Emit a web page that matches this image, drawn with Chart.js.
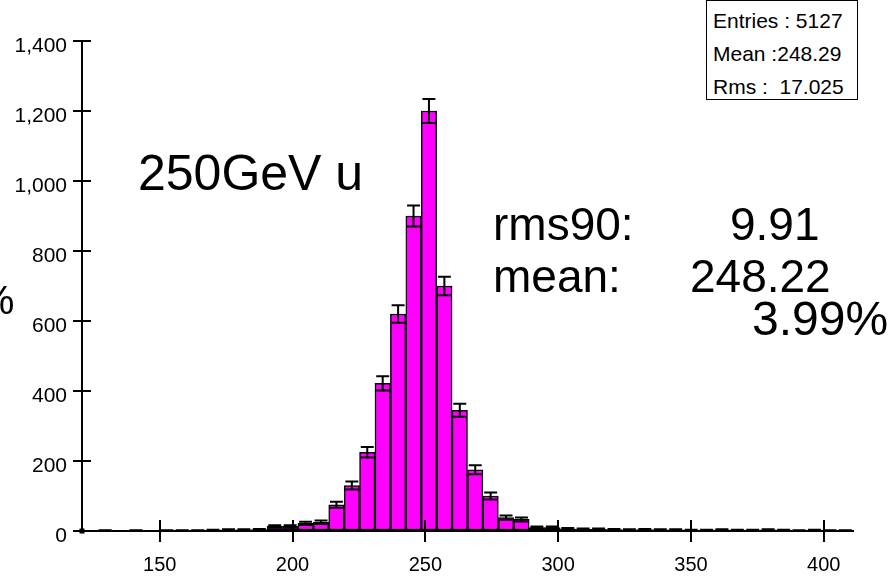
<!DOCTYPE html>
<html>
<head>
<meta charset="utf-8">
<script src="https://cdn.jsdelivr.net/npm/chart.js@4/dist/chart.umd.min.js"></script>
<style>
  html, body { margin: 0; padding: 0; background: #fff; }
  #wrap { position: relative; width: 896px; height: 576px; overflow: hidden; font-family: "Liberation Sans", Arial, sans-serif; }
  #c { position: absolute; left: 0; top: 0; }
  .t { position: absolute; white-space: pre; line-height: 1; color: #000; }
  #stats { position: absolute; left: 706px; top: 0px; width: 150px; height: 98px; border: 1px solid #000; background: #fff; font-size: 21px; }
  #stats .row { position: absolute; left: 6px; white-space: pre; line-height: 1; }
</style>
</head>
<body>
<div id="wrap">
  <canvas id="c" width="896" height="576"></canvas>
  <div class="t" style="left:-22px; top:280px; font-size:41px;">%</div>
  <div class="t" style="left:138px; top:148px; font-size:50px;">250GeV u</div>
  <div class="t" style="left:493px; top:201px; font-size:46px;">rms90:</div>
  <div class="t" style="left:730px; top:201px; font-size:46px;">9.91</div>
  <div class="t" style="left:493px; top:253px; font-size:46px;">mean:</div>
  <div class="t" style="left:690px; top:253px; font-size:46px;">248.22</div>
  <div class="t" style="left:752px; top:295px; font-size:48px;">3.99%</div>
  <div id="stats">
    <div class="row" style="top:9px;">Entries : 5127</div>
    <div class="row" style="top:42px;">Mean :248.29</div>
    <div class="row" style="top:75px;">Rms :  17.025</div>
  </div>
</div>
<script>
// ---- data ----
const binCenters = [123.65, 129.46, 135.26, 141.07, 146.87, 152.68, 158.48, 164.29, 170.09, 175.90,
                    181.70, 187.51, 193.31, 199.12, 204.92, 210.73, 216.53, 222.34, 228.14, 233.95,
                    239.75, 245.56, 251.36, 257.17, 262.97, 268.78, 274.58, 280.39, 286.19, 292.00,
                    297.80, 303.61, 309.41, 315.22, 321.02, 326.83, 332.63, 338.44, 344.24, 350.05,
                    355.85, 361.66, 367.46, 373.27, 379.07, 384.88, 390.68, 396.49, 402.29, 408.10];
const counts = [0, 1, 0, 1, 0, 1, 1, 1, 2, 3,
                3, 4, 13, 13, 22, 25, 75, 130, 225, 422,
                620, 900, 1200, 700, 345, 175, 100, 38, 33, 10,
                10, 6, 5, 5, 4, 3, 4, 3, 3, 2,
                2, 3, 2, 2, 3, 2, 1, 2, 1, 1];
const errors = [0, 1, 0, 1, 0, 1, 1, 1, 1.4, 1.7,
                1.7, 2, 3.6, 3.6, 4.7, 5, 8.7, 11.4, 15, 20.5,
                24.9, 30, 34.6, 26.5, 18.6, 13.2, 10, 6.2, 5.7, 3.2,
                3.2, 2.4, 2.2, 2.2, 2, 1.7, 2, 1.7, 1.7, 1.4,
                1.4, 1.7, 1.4, 1.4, 1.7, 1.4, 1, 1.4, 1, 1];
const xTickValues = [150, 200, 250, 300, 350, 400];
const xRange = [120.75, 411];
const yRange = [0, 1400];
const yStep = 200;

const points = binCenters.map((x, i) => ({ x: x, y: counts[i] }));

const crossTicks = {
  id: 'crossTicks',
  afterDatasetsDraw(chart) {
    const ctx = chart.ctx;
    const xs = chart.scales.x, ys = chart.scales.y;
    const meta = chart.getDatasetMeta(0);
    ctx.save();
    // error bars
    ctx.strokeStyle = '#000';
    ctx.lineWidth = 2;
    meta.data.forEach((bar, i) => {
      const e = errors[i];
      if (!e) return;
      const cx = bar.x;
      const yt = ys.getPixelForValue(counts[i] + e);
      const yb = ys.getPixelForValue(Math.max(0, counts[i] - e));
      const hw = bar.width * 0.42;
      ctx.beginPath();
      ctx.moveTo(cx, yt); ctx.lineTo(cx, yb);
      ctx.moveTo(cx - hw, yt); ctx.lineTo(cx + hw, yt);
      ctx.moveTo(cx - hw, yb); ctx.lineTo(cx + hw, yb);
      ctx.stroke();
    });
    // inward halves of the axis ticks
    ctx.lineWidth = 2;
    ctx.beginPath();
    ys.ticks.forEach(t => {
      const py = Math.round(ys.getPixelForValue(t.value));
      ctx.moveTo(xs.left, py); ctx.lineTo(xs.left + 9, py);
    });
    xs.ticks.forEach(t => {
      const px = Math.round(xs.getPixelForValue(t.value));
      ctx.moveTo(px, ys.bottom); ctx.lineTo(px, ys.bottom - 11);
    });
    ctx.stroke();
    // origin marker
    ctx.fillStyle = '#000';
    ctx.fillRect(xs.left - 2.5, ys.bottom - 2.5, 5, 5);
    ctx.restore();
  }
};

new Chart(document.getElementById('c'), {
  type: 'bar',
  data: {
    datasets: [{
      data: points,
      backgroundColor: '#ff00ff',
      borderColor: '#000000',
      borderWidth: 1.5,
      borderSkipped: false,
      barPercentage: 1.0,
      categoryPercentage: 1.0,
      grouped: false
    }]
  },
  options: {
    responsive: false,
    animation: false,
    devicePixelRatio: 1,
    layout: { padding: { top: 41, right: 43, left: 0, bottom: 0 } },
    plugins: { legend: { display: false }, tooltip: { enabled: false } },
    scales: {
      x: {
        type: 'linear',
        min: xRange[0],
        max: xRange[1],
        offset: false,
        afterBuildTicks: (s) => { s.ticks = xTickValues.map(v => ({ value: v })); },
        afterFit: (s) => { s.height = 45; },
        grid: { display: true, offset: false, drawOnChartArea: false, drawTicks: true, tickLength: 11, color: '#000', lineWidth: 2 },
        border: { display: true, color: '#000', width: 2 },
        ticks: { color: '#000', padding: 11, font: { family: 'Liberation Sans', size: 20 }, maxRotation: 0, autoSkip: false }
      },
      y: {
        type: 'linear',
        min: yRange[0],
        max: yRange[1],
        afterFit: (s) => { s.width = 82; },
        grid: { display: true, offset: false, drawOnChartArea: false, drawTicks: true, tickLength: 9, color: '#000', lineWidth: 2 },
        border: { display: true, color: '#000', width: 2 },
        ticks: { stepSize: yStep, color: '#000', padding: 6, labelOffset: 5, font: { family: 'Liberation Sans', size: 21 } }
      }
    }
  },
  plugins: [crossTicks]
});
</script>
</body>
</html>
